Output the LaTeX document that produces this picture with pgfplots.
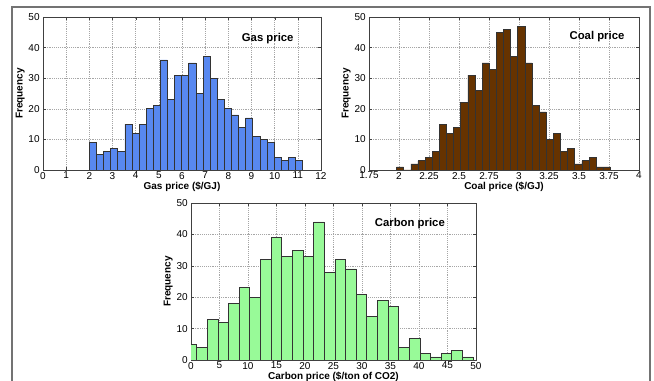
\documentclass[border=0pt]{standalone}
\usepackage{pgfplots}
\pgfplotsset{compat=1.18}
\usepackage{fontspec}
\setmainfont{Liberation Sans}
\definecolor{gasblue}{RGB}{88,136,240}
\definecolor{coalbrown}{RGB}{102,51,0}
\definecolor{carbongreen}{RGB}{152,250,152}
\pgfplotsset{
  mystyle/.style={
    scale only axis,
    anchor=south west,
    ymin=0, ymax=50,
    ytick={0,10,20,30,40,50},
    grid=major,
    grid style={densely dotted, black!35, line width=0.4pt},
    axis line style={black!75, line width=0.6pt},
    tick align=inside,
    major tick length=2pt,
    tick style={black!75},
    /pgf/number format/assume math mode=true,
    tick label style={font=\fontsize{7.5}{8}\selectfont},
    xticklabel style={yshift=2pt},
    yticklabel style={xshift=1pt},
    label style={font=\fontsize{7.5}{8}\selectfont\bfseries},
    xlabel style={yshift=5pt},
    ylabel style={yshift=-4pt},
    ylabel={Frequency},
  },
  barstyle/.style={ybar interval, draw=black!80, line width=0.5pt, fill=#1},
}
\begin{document}
\begin{tikzpicture}
\useasboundingbox (0,0) rectangle (490.5pt,285.75pt);
\draw[black!55, line width=1.2pt] (9pt,0pt) -- (9pt,280.5pt) -- (487.5pt,280.5pt) -- (487.5pt,0pt);

% Gas price
\begin{axis}[mystyle, at={(32.25pt,158.25pt)}, width=208.5pt, height=114.75pt,
  xmin=0, xmax=12, xtick={0,1,...,12}, xlabel={Gas price (\$/GJ)}]
\addplot[barstyle=gasblue] coordinates {
(2.000,9) (2.307,5) (2.613,6) (2.920,7) (3.227,6) (3.533,15) (3.840,12) (4.147,15)
(4.453,20) (4.760,21) (5.067,36) (5.373,23) (5.680,31) (5.987,31) (6.293,35) (6.600,25)
(6.907,37) (7.213,30) (7.520,23) (7.827,20) (8.133,18) (8.440,14) (8.747,17) (9.053,11)
(9.360,10) (9.667,9) (9.973,4) (10.280,3) (10.587,4) (10.893,3) (11.200,3)};
\node[font=\fontsize{8.5}{9}\selectfont\bfseries] at (axis cs:9.7,42.8) {Gas price};
\end{axis}

% Coal price
\begin{axis}[mystyle, at={(276.75pt,158.25pt)}, width=202.5pt, height=114.75pt,
  xmin=1.75, xmax=4, xtick={1.75,2,2.25,2.5,2.75,3,3.25,3.5,3.75,4},
  xticklabels={1.75,2,2.25,2.5,2.75,3,3.25,3.5,3.75,4},
  xlabel={Coal price (\$/GJ)}]
\addplot[barstyle=coalbrown] coordinates {
(1.980,1) (2.039,0) (2.099,2) (2.158,3) (2.218,4) (2.277,6) (2.336,15) (2.396,12)
(2.455,14) (2.515,22) (2.574,31) (2.633,26) (2.693,35) (2.752,33) (2.812,45) (2.871,46)
(2.930,37) (2.990,47) (3.049,35) (3.109,21) (3.168,19) (3.227,10) (3.287,12) (3.346,6)
(3.406,7) (3.465,2) (3.524,3) (3.584,4) (3.643,1) (3.703,1) (3.762,1)};
\node[font=\fontsize{8.5}{9}\selectfont\bfseries] at (axis cs:3.65,43.5) {Coal price};
\end{axis}

% Carbon price
\begin{axis}[mystyle, at={(143.25pt,15.75pt)}, width=213.75pt, height=117.75pt,
  xmin=0, xmax=50, xtick={0,5,...,50}, xlabel={Carbon price (\$/ton of CO2)}]
\addplot[barstyle=carbongreen] coordinates {
(-0.870,5) (0.995,4) (2.860,13) (4.725,12) (6.590,18) (8.455,23) (10.320,20) (12.185,32)
(14.050,39) (15.915,33) (17.780,35) (19.645,33) (21.510,44) (23.375,28) (25.240,32) (27.105,29)
(28.970,21) (30.835,14) (32.700,19) (34.565,17) (36.430,4) (38.295,7) (40.160,2) (42.025,1)
(43.890,2) (45.755,3) (47.620,1) (49.485,1)};
\node[font=\fontsize{8.5}{9}\selectfont\bfseries] at (axis cs:38.4,43.6) {Carbon price};
\end{axis}
\end{tikzpicture}
\end{document}
